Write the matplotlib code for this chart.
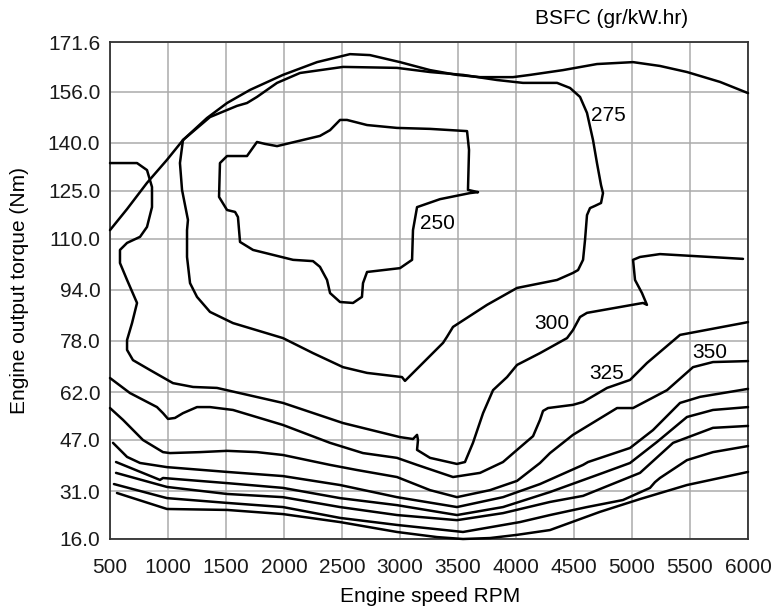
import matplotlib
matplotlib.use("Agg")
import matplotlib.pyplot as plt

plt.rcParams["font.family"] = ["Liberation Sans", "DejaVu Sans"]

# full-load torque curve
full_load_rpm = [500, 647, 819, 991, 1129, 1336, 1509, 1707, 1991, 2285, 2569, 2741, 3000,
                 3259, 3491, 3690, 3974, 4121, 4405, 4698, 5009, 5241, 5474, 5759, 6000]
full_load_nm = [112.7, 119.3, 127.5, 134.7, 140.9, 147.8, 152.5, 156.6, 161.3, 165.3, 167.8,
                167.5, 165.3, 162.8, 161.3, 160.6, 160.6, 161.3, 162.8, 164.7, 165.3, 164.1,
                162.2, 159.1, 155.6]

# 250 island
bsfc_250_rpm = [3672, 3603, 3345, 3147, 3112, 3104, 3000, 2716, 2681, 2672, 2595, 2483, 2397,
                2371, 2310, 2250, 2078, 1733, 1621, 1603, 1578, 1509, 1440, 1448, 1509, 1681,
                1767, 1836, 1940, 2310, 2397, 2483, 2543, 2716, 2974, 3259, 3578, 3595, 3586,
                3672]
bsfc_250_nm = [124.6, 124.3, 122.4, 119.9, 112.7, 103.4, 100.8, 99.6, 96.1, 91.8, 89.9, 90.2,
               93.0, 97.1, 101.2, 103.0, 103.4, 106.5, 109.0, 116.8, 118.4, 119.0, 123.1,
               133.7, 135.9, 135.9, 140.3, 139.7, 139.0, 142.2, 144.0, 147.2, 147.2, 145.6,
               144.7, 144.4, 143.7, 137.8, 125.3, 124.6]

# 275 loop
bsfc_275_rpm = [1129, 1362, 1595, 1681, 1767, 1940, 2138, 2509, 2974, 3259, 3543, 3836, 4060,
                4354, 4466, 4552, 4612, 4664, 4698, 4733, 4750, 4733, 4681, 4638, 4612, 4595,
                4578, 4535, 4491, 4354, 4009, 3750, 3457, 3405, 3371, 3043, 3017, 2716, 2509,
                2250, 1991, 1560, 1362, 1250, 1190, 1164, 1164, 1172, 1121, 1103, 1129]
bsfc_275_nm = [140.9, 148.1, 151.6, 152.5, 154.4, 158.8, 161.9, 163.8, 163.5, 162.2, 161.3,
               159.7, 158.8, 158.8, 157.2, 154.4, 149.4, 140.9, 133.7, 126.8, 124.3, 121.2,
               120.3, 119.6, 117.4, 109.6, 103.4, 100.2, 99.3, 97.1, 94.6, 89.3, 82.4, 79.3,
               77.4, 65.5, 66.7, 68.0, 69.8, 74.2, 78.9, 83.6, 87.1, 91.8, 96.1, 104.3, 112.7,
               115.9, 125.3, 133.7, 140.9]

# 300 line
bsfc_300_rpm = [500, 733, 819, 862, 862, 819, 759, 647, 586, 586, 647, 733, 690, 647, 647, 698,
                845, 1043, 1216, 1422, 1991, 2509, 3000, 3112, 3147, 3155, 3147, 3259, 3491,
                3560, 3629, 3716, 3802, 3923, 4009, 4207, 4440, 4491, 4552, 4612, 5095, 5129,
                5086, 5026, 5009, 5069, 5241, 5957]
bsfc_300_nm = [133.7, 133.7, 131.5, 126.2, 119.9, 113.7, 110.6, 108.7, 106.5, 102.4, 97.1,
               89.9, 83.6, 78.3, 75.2, 72.0, 68.9, 64.8, 63.6, 63.3, 58.6, 52.3, 47.9, 47.3,
               48.6, 47.0, 43.9, 41.4, 39.5, 40.1, 46.1, 55.4, 62.6, 66.7, 70.5, 74.2, 78.9,
               81.4, 85.5, 86.8, 89.9, 89.3, 93.0, 97.1, 103.4, 104.3, 105.2, 103.7]

bsfc_325_rpm = [500, 672, 905, 957, 1000, 1060, 1129, 1250, 1362, 1560, 1991, 2397, 2681, 2974,
                3147, 3457, 3690, 3888, 4009, 4147, 4207, 4233, 4276, 4491, 4578, 4785, 4983,
                5129, 5414, 6000]
bsfc_325_nm = [66.4, 61.7, 57.3, 55.4, 53.6, 53.9, 55.4, 57.3, 57.3, 56.4, 51.7, 46.1, 42.9,
               41.4, 39.2, 35.4, 36.7, 40.1, 43.9, 48.2, 53.3, 56.1, 57.0, 58.0, 58.9, 63.3,
               65.8, 71.1, 79.9, 83.9]

bsfc_350_rpm = [500, 612, 784, 957, 1017, 1276, 1509, 1767, 1991, 2397, 2629, 2974, 3259, 3491,
                3776, 4009, 4207, 4293, 4491, 4871, 5009, 5302, 5526, 5698, 6000]
bsfc_350_nm = [57.0, 53.3, 47.0, 43.2, 42.9, 43.2, 43.6, 43.2, 42.3, 39.2, 37.6, 35.4, 31.3,
               29.1, 31.3, 34.2, 39.8, 42.9, 48.6, 57.0, 57.0, 62.6, 69.8, 71.4, 71.7]

# unlabelled lower lines
line_c_rpm = [526, 647, 759, 991, 1509, 1991, 2483, 2974, 3491, 3888, 4207, 4578, 4621, 4983,
              5181, 5414, 5586, 6000]
line_c_nm = [46.1, 41.7, 39.8, 38.5, 37.0, 35.7, 32.9, 29.1, 26.0, 29.1, 33.2, 39.2, 40.1,
             44.5, 50.1, 58.6, 60.5, 63.0]

line_d_rpm = [552, 931, 957, 1509, 1991, 2483, 2974, 3491, 3888, 4293, 4750, 4983, 5216, 5474,
              5698, 6000]
line_d_nm = [40.1, 34.5, 35.1, 33.5, 32.0, 28.8, 26.6, 23.5, 26.0, 30.7, 36.7, 39.8, 46.4,
             54.2, 56.4, 57.3]

line_e_rpm = [552, 991, 1509, 1991, 2483, 2974, 3491, 3888, 4293, 4578, 5069, 5354, 5698, 6000]
line_e_nm = [36.7, 32.3, 30.1, 29.1, 26.0, 23.5, 21.9, 24.1, 27.6, 29.5, 36.7, 46.1, 50.8, 51.4]

line_f_rpm = [534, 991, 1509, 1991, 2483, 2974, 3543, 4034, 4293, 4612, 4922, 5155, 5198, 5241,
              5474, 5698, 6000]
line_f_nm = [33.2, 28.8, 27.3, 26.0, 22.6, 20.4, 18.2, 21.3, 23.5, 26.0, 28.2, 32.0, 33.8,
             35.1, 40.7, 43.2, 45.1]

line_g_rpm = [560, 991, 1509, 1991, 2483, 2974, 3319, 3543, 3776, 4009, 4293, 4724, 5069, 5474,
              6000]
line_g_nm = [30.4, 25.4, 25.1, 23.8, 21.3, 18.2, 16.6, 16.0, 16.3, 17.3, 18.8, 24.5, 28.5,
             32.9, 37.0]

contour_labels = ["250", "275", "300", "325", "350"]
label_rpm = [3319, 4793, 4310, 4785, 5672]
label_nm = [114.9, 148.7, 83.6, 67.7, 74.5]

x_ticks = [500, 1000, 1500, 2000, 2500, 3000, 3500, 4000, 4500, 5000, 5500, 6000]
y_ticks = [16.0, 31.0, 47.0, 62.0, 78.0, 94.0, 110.0, 125.0, 140.0, 156.0, 171.6]

curves = [
    (full_load_rpm, full_load_nm),
    (bsfc_250_rpm, bsfc_250_nm),
    (bsfc_275_rpm, bsfc_275_nm),
    (bsfc_300_rpm, bsfc_300_nm),
    (bsfc_325_rpm, bsfc_325_nm),
    (bsfc_350_rpm, bsfc_350_nm),
    (line_c_rpm, line_c_nm),
    (line_d_rpm, line_d_nm),
    (line_e_rpm, line_e_nm),
    (line_f_rpm, line_f_nm),
    (line_g_rpm, line_g_nm),
]

FS = 15

fig = plt.figure(figsize=(7.73, 6.10), dpi=100)
ax = fig.add_axes([110 / 773, 71 / 610, 638 / 773, 497 / 610])

for rpm, nm in curves:
    ax.plot(rpm, nm, color="black", lw=1.8, solid_joinstyle="round",
            solid_capstyle="round", clip_on=False, zorder=3)

for text, xr, yn in zip(contour_labels, label_rpm, label_nm):
    ax.text(xr, yn, text, ha="center", va="center", fontsize=FS, zorder=4)

ax.set_xlim(500, 6000)
ax.set_ylim(16.0, 171.6)
ax.set_xticks(x_ticks)
ax.set_yticks(y_ticks)
ax.set_yticklabels([f"{v:.1f}" for v in y_ticks])
ax.tick_params(axis="both", length=0, labelsize=FS, colors="#1a1a1a")
ax.tick_params(axis="x", pad=14)
ax.tick_params(axis="y", pad=7)
ax.grid(True, color="#ababab", lw=1.1, zorder=1)
ax.set_axisbelow(True)
for spine in ax.spines.values():
    spine.set_color("#333333")
    spine.set_linewidth(1.3)

fig.text(430 / 773, 1 - 596 / 610, "Engine speed RPM", ha="center", va="center",
         fontsize=FS)
fig.text(20 / 773, 1 - 290 / 610, "Engine output torque (Nm)", ha="center", va="center",
         rotation=90, fontsize=FS)
fig.text(612 / 773, 1 - 18 / 610, "BSFC (gr/kW.hr)", ha="center", va="center",
         fontsize=FS)

fig.savefig("out.png", dpi=100)
